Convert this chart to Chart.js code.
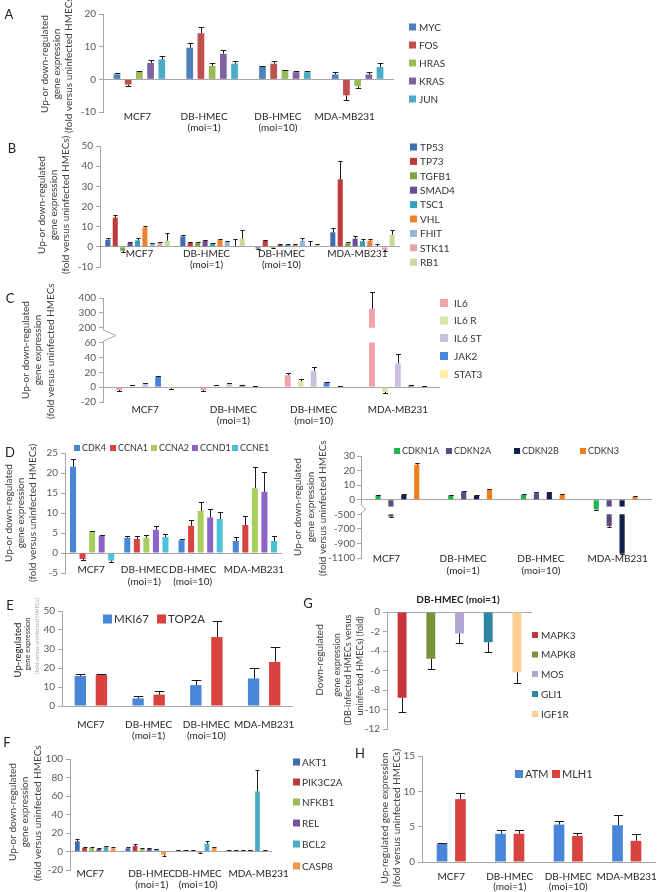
<!DOCTYPE html>
<html><head><meta charset="utf-8">
<script src="https://cdn.jsdelivr.net/npm/chart.js@4.4.1/dist/chart.umd.min.js"></script>
<style>
html,body{margin:0;padding:0;background:#fff;}
#wrap{position:relative;width:660px;height:892px;overflow:hidden;background:#fff;font-family:Lato,'Liberation Sans',sans-serif;}
canvas{position:absolute;}
.lab{position:absolute;font-size:13px;color:#222;transform:translate(-50%,-50%);line-height:1;}
.gt{position:absolute;font-size:10px;font-weight:bold;color:#222;transform:translate(-50%,-50%);white-space:nowrap;}
</style></head><body><div id="wrap"></div>
<script>
// ---------- DATA ----------
const categories = ['MCF7', ['DB-HMEC','(moi=1)'], ['DB-HMEC','(moi=10)'], 'MDA-MB231'];

// Panel A
const aGenes = ['MYC','FOS','HRAS','KRAS','JUN'];
const aMYC  = [1.5, 9.7, 4.0, 1.5];
const aFOS  = [-1.6, 14.1, 4.8, -4.9];
const aHRAS = [2.4, 4.1, 2.8, -2.1];
const aKRAS = [5.0, 7.8, 2.2, 1.5];
const aJUN  = [6.1, 4.8, 2.2, 3.8];
const aErr = [[0.4,1.4,0.2,0.7],[0.4,1.8,0.7,1.5],[0.3,0.9,0.2,0.6],[0.8,1.3,0.2,0.8],[0.9,0.8,0.2,1.2]];

// Panel B
const bGenes = ['TP53','TP73','TGFB1','SMAD4','TSC1','VHL','FHIT','STK11','RB1'];
const bTP53  = [3.5, 5.2, -0.8, 7.2];
const bTP73  = [14.5, 2.0, 3.2, 33.5];
const bTGFB1 = [-2.0, 2.0, -0.5, 1.8];
const bSMAD4 = [2.0, 3.0, 1.0, 4.0];
const bTSC1  = [3.2, 1.8, 1.0, 2.8];
const bVHL   = [9.5, 3.5, 1.0, 3.0];
const bFHIT  = [1.5, 2.5, 3.0, 0.3];
const bSTK11 = [2.0, 0.3, 0.4, -1.5];
const bRB1   = [3.0, 4.0, 1.0, 6.0];
const bErr = [[1,0.8,0.2,2.3],[1.3,0.3,0.4,9.3],[0.8,0.5,0.2,0.8],[0.3,0.5,0.2,1.5],[1.2,0.3,0.2,1.2],[0.7,0.5,0.2,0.8],[0.3,0.3,1.4,1.2],[0.5,3.7,2.6,0.5],[3.8,4.2,0.6,2.5]];

// Panel C (broken axis)
const cGenes = ['IL6','IL6 R','IL6 ST','JAK2','STAT3'];
const cIL6   = [-4, -4, 16, 328];
const cIL6R  = [2, 3, 8, -6.5];
const cIL6ST = [4, 4, 22, 32];
const cJAK2  = [14, 3, 6.5, 2];
const cSTAT3 = [-1.5, 1, 1, 1];
const cErr = [[1.5,1.5,3.5,115],[0.5,0.5,2.5,2],[1,1,5,12],[1,0.5,1,0.5],[0.5,0.3,0.3,0.5]];
const cTickLabels = ['-20','0','20','40','60','200','300','400'];

// Panel D left
const dGenes = ['CDK4','CCNA1','CCNA2','CCND1','CCNE1'];
const dCDK4  = [21.6, 3.8, 3.2, 3.0];
const dCCNA1 = [-1.5, 3.5, 6.8, 7.0];
const dCCNA2 = [5.5, 3.8, 10.5, 16.2];
const dCCND1 = [4.3, 5.8, 8.9, 15.3];
const dCCNE1 = [-1.9, 4.0, 8.5, 3.0];
const dErr = [[2,0.4,0.2,1.0],[0.3,0.7,1.4,2.3],[0.1,0.6,2.3,5.4],[0.2,1.0,2.1,5.0],[0.3,0.7,1.7,1.2]];

// Panel D right (broken axis)
const drGenes = ['CDKN1A','CDKN2A','CDKN2B','CDKN3'];
const drCDKN1A = [3, 3, 3.5, -330];
const drCDKN2A = [-530, 5.5, 4.5, -660];
const drCDKN2B = [3.5, 3, 5, -1040];
const drCDKN3  = [24, 7, 3.5, 2];
const drErr = [[0.5,0.5,0.5,12],[12,0.5,0.5,12],[0.5,0.5,0.5,10],[1,0.5,0.5,0.5]];
const drTickLabels = ['-1100','-900','-700','-500','0','10','20','30'];

// Panel E
const eGenes = ['MKI67','TOP2A'];
const eMKI67 = [15.8, 4.0, 11.0, 14.5];
const eTOP2A = [16.3, 6.0, 36.3, 23.2];
const eErr = [[1.0,1.2,2.6,5.3],[0.5,1.7,8.2,8.0]];

// Panel G
const gGenes = ['MAPK3','MAPK8','MOS','GLI1','IGF1R'];
const gValues = [-8.8, -4.8, -2.2, -3.1, -6.2];
const gErr = [1.5, 1.0, 1.0, 1.0, 1.1];

// Panel F
const fGenes = ['AKT1','PIK3C2A','NFKB1','REL','BCL2','CASP8'];
const fAKT1    = [11, 3.5, 1, 1.5];
const fPIK3C2A = [4, 6, 1.5, 1.5];
const fNFKB1   = [4, 3, 1, 1.5];
const fREL     = [3, 3, -1, 1.5];
const fBCL2    = [5, 2.5, 8.5, 65];
const fCASP8   = [3.5, -3.5, 4, 1.5];
const fErr = [[2.5,1,0.5,0.5],[1,2,0.5,0.5],[1,1,0.3,0.5],[1,1,0.5,0.5],[1,0.5,2.5,23],[1,1,1,0.5]];

// Panel H
const hGenes = ['ATM','MLH1'];
const hATM  = [2.6, 4.0, 5.3, 5.2];
const hMLH1 = [8.9, 4.0, 3.7, 3.0];
const hErr = [[0.1,0.5,0.5,1.4],[0.8,0.5,0.4,0.9]];

// ---------- BUILD ----------
const FONT = "Lato, 'Liberation Sans', sans-serif";
const wrap = document.getElementById('wrap');
function ser(names, vals, errs, colors){ return names.map((n,i)=>({label:n, raw:vals[i], err:errs[i], color:colors[i]})); }
const cTf = v => v <= 60 ? v/20 : (v < 200 ? 3 + (v-60)/140 : 4 + (v-200)/100);
const drTf = v => v >= 0 ? v/10 : (v >= -500 ? v/500 : -1 + (v+500)/200);

function makePanel(p){
  const [cx,cy,cw,ch] = p.rect;
  const [l,t,r,b] = p.plot;
  const cv = document.createElement('canvas');
  cv.style.left = cx+'px'; cv.style.top = cy+'px';
  cv.style.width = cw+'px'; cv.style.height = ch+'px';
  cv.width = cw; cv.height = ch;
  wrap.appendChild(cv);
  const tf = p.tf || (v=>v);
  const yW = l - cx, xH = cy + ch - b;
  const showX = p.showX !== false;
  const deco = {
    id: 'deco_'+p.id,
    afterDatasetsDraw(chart){
      const ctx = chart.ctx, ys = chart.scales.y;
      chart.data.datasets.forEach((ds, di) => {
        const meta = chart.getDatasetMeta(di);
        meta.data.forEach((bar, i) => {
          const v = ds.rawVals[i], e = ds.errs[i], w = bar.width;
          if (p.gap && p.gap.test(v)) {
            const y1 = ys.getPixelForValue(p.gap.t1), y2 = ys.getPixelForValue(p.gap.t2);
            ctx.save(); ctx.fillStyle = '#fff';
            ctx.fillRect(bar.x - w/2 - 1, Math.min(y1,y2), w + 2, Math.abs(y2-y1));
            ctx.restore();
          }
          const sgn = v < 0 ? -1 : 1;
          const yEnd = ys.getPixelForValue(tf(v + sgn*e));
          const cap = Math.max(4, w*0.85)/2;
          const x = Math.round(bar.x) + 0.5, ye = Math.round(yEnd) + 0.5;
          ctx.save(); ctx.strokeStyle = '#1a1a1a'; ctx.lineWidth = 1;
          ctx.beginPath();
          ctx.moveTo(x, bar.y); ctx.lineTo(x, ye);
          ctx.moveTo(x - cap, ye); ctx.lineTo(x + cap, ye);
          ctx.stroke(); ctx.restore();
        });
      });
    },
    afterDraw(chart){
      const ctx = chart.ctx, ys = chart.scales.y, xs = chart.scales.x;
      if (p.brk) {
        const ax = chart.chartArea.left;
        const y1 = ys.getPixelForValue(p.brk.t1), y2 = ys.getPixelForValue(p.brk.t2);
        ctx.save();
        ctx.fillStyle = '#fff';
        ctx.fillRect(ax - 2, Math.min(y1,y2), 4, Math.abs(y2-y1));
        ctx.strokeStyle = '#A6A6A6'; ctx.lineWidth = 1;
        ctx.beginPath();
        ctx.moveTo(ax + 0.5, y1); ctx.lineTo(ax + p.brk.w, (y1+y2)/2); ctx.lineTo(ax + 0.5, y2);
        ctx.stroke(); ctx.restore();
      }
      if (p.cat) {
        ctx.save();
        ctx.font = '10px ' + FONT; ctx.fillStyle = '#262626';
        ctx.textAlign = 'center'; ctx.textBaseline = 'middle';
        chart.data.labels.forEach((lab, i) => {
          const x = xs.getPixelForValue(i) + (p.cat.dx ? p.cat.dx[i] : 0);
          const lines = Array.isArray(lab) ? lab : [lab];
          lines.forEach((s, k) => ctx.fillText(s, x, p.cat.y - cy + k*p.cat.dy));
        });
        ctx.restore();
      }
      if (p.legend) {
        const L = p.legend;
        ctx.save();
        ctx.font = (L.font || 10) + 'px ' + FONT;
        ctx.textBaseline = 'middle'; ctx.textAlign = 'left';
        chart.data.datasets.forEach((ds, i) => {
          const x = (Array.isArray(L.x) ? L.x[i] : L.x) - cx;
          const y = (Array.isArray(L.y) ? L.y[i] : L.y) - cy;
          ctx.fillStyle = ds.backgroundColor;
          ctx.fillRect(x, y - L.box/2, L.box, L.box);
          ctx.fillStyle = '#333';
          ctx.fillText(ds.label, x + L.dx, y + 0.5);
        });
        ctx.restore();
      }
      if (p.vtitle) {
        p.vtitle.forEach(ln => {
          const [txt, x, yc, size, color] = ln;
          ctx.save();
          ctx.translate(x - cx, yc - cy);
          ctx.rotate(-Math.PI/2);
          ctx.font = size + 'px ' + FONT;
          ctx.fillStyle = color || '#333';
          ctx.textAlign = 'center'; ctx.textBaseline = 'middle';
          ctx.fillText(txt, 0, 0);
          ctx.restore();
        });
      }
    }
  };
  const datasets = p.series.map(s => ({
    label: s.label, data: s.raw.map(tf), rawVals: s.raw, errs: s.err,
    backgroundColor: s.color, borderWidth: 0,
    categoryPercentage: p.catPct, barPercentage: p.barPct
  }));
  const yTicks = { stepSize: p.step, autoSkip: false, color: '#595959', font: {family: FONT, size: 10}, padding: p.tickPad || 3 };
  if (p.tickLabel) yTicks.callback = p.tickLabel;
  new Chart(cv, {
    type: 'bar',
    data: { labels: p.labels, datasets },
    options: {
      responsive: false, animation: false, devicePixelRatio: 1,
      layout: { padding: { left: 0, top: t - cy, right: cx + cw - r, bottom: showX ? 0 : xH } },
      plugins: { legend: {display: false}, tooltip: {enabled: false}, title: {display: false} },
      scales: {
        x: { display: showX, grid: {display: false}, border: {display: false},
             ticks: { display: false },
             afterFit: s => { s.height = xH; } },
        y: { min: p.yMin, max: p.yMax, ticks: yTicks,
             grid: { color: c => (c.tick && c.tick.value === 0) ? '#A6A6A6' : 'rgba(0,0,0,0)', tickColor: '#A6A6A6', tickLength: 4 },
             border: { display: true, color: '#A6A6A6' },
             afterFit: s => { s.width = yW; } }
      }
    },
    plugins: [deco]
  });
}

const T3 = ['Up-or down-regulated','gene expression','(fold versus uninfected HMECs)'];
const TC = '#404040';

// A
makePanel({ id:'A', rect:[0,0,470,136], plot:[103,14,394,112], labels:categories,
  series: ser(aGenes, [aMYC,aFOS,aHRAS,aKRAS,aJUN], aErr, ['#4F81BD','#C0504D','#9BBB59','#8064A2','#4BACC6']),
  yMin:-10, yMax:20, step:10, catPct:0.77, barPct:0.6, cat:{y:117, dy:11, dx:[-2,-8,-7,-13]},
  legend:{x:409, y:[27,45,63,81,99], box:7, dx:10},
  vtitle: T3.map((s,i)=>[s, [45,57,69][i], 64, 10, TC]) });

// B
makePanel({ id:'B', rect:[0,132,470,148], plot:[100,146,400,267], labels:categories,
  series: ser(bGenes, [bTP53,bTP73,bTGFB1,bSMAD4,bTSC1,bVHL,bFHIT,bSTK11,bRB1], bErr,
    ['#3E6EB2','#C0393B','#7FA63C','#6B4E96','#31A0BC','#F0812C','#94B4DC','#E8A2AA','#C5DC9A']),
  yMin:-10, yMax:50, step:10, catPct:0.89, barPct:0.68, cat:{y:254, dy:11, dx:[2,-6,-6,-5]},
  legend:{x:410, y:bGenes.map((g,i)=>147+i*14.4), box:7, dx:10},
  vtitle: T3.map((s,i)=>[s, [42,54,66][i], 205, 10, TC]) });

// C
makePanel({ id:'C', rect:[0,284,520,148], plot:[103,298,440,402], labels:categories,
  series: ser(cGenes, [cIL6,cIL6R,cIL6ST,cJAK2,cSTAT3], cErr, ['#F0A3AB','#D6E6A8','#C9C0E0','#4A86D8','#FBEFA6']),
  yMin:-1, yMax:6, step:1, tf:cTf, tickLabel: v => cTickLabels[Math.round(v)+1],
  catPct:0.77, barPct:0.45, cat:{y:410, dy:11, dx:[0,4,0,0]},
  legend:{x:440, y:[303,320.5,338,356,374], box:8, dx:14},
  gap:{test: v => v > 200, t1:3.0, t2:4.0},
  brk:{t1:3.1, t2:3.85, w:13},
  vtitle: T3.map((s,i)=>[s, [26,38,51][i], 350, 10, TC]) });

// D left
makePanel({ id:'DL', rect:[0,440,330,150], plot:[65,453,282,573], labels:categories,
  series: ser(dGenes, [dCDK4,dCCNA1,dCCNA2,dCCND1,dCCNE1], dErr, ['#4A86D8','#D9433F','#A8CF5C','#8C63C6','#4DC1D9']),
  yMin:-5, yMax:25, step:5, catPct:0.88, barPct:0.63, cat:{y:570, dy:12, dx:[-1,-2,-8,-1]},
  legend:{x:[74,110,151,192,232], y:448, box:6, dx:8, font:9},
  vtitle: T3.map((s,i)=>[s, [9,21,33][i], 513, 10, TC]) });

// D right
makePanel({ id:'DR', rect:[290,440,370,150], plot:[361,456,652,558], labels:categories,
  series: ser(drGenes, [drCDKN1A,drCDKN2A,drCDKN2B,drCDKN3], drErr, ['#20B352','#5E4A80','#101F4C','#F07E1F']),
  yMin:-4, yMax:3, step:1, tf:drTf, tickLabel: v => drTickLabels[Math.round(v)+4], tickPad:2,
  catPct:0.71, barPct:0.4, cat:{y:559, dy:12, dx:[-11,-7,-2,2]},
  legend:{x:[394,446,514,580], y:451, box:6, dx:8, font:9},
  gap:{test: v => v < -500, t1:-0.47, t2:-1.0},
  brk:{t1:-0.4, t2:-0.9, w:5},
  vtitle: T3.map((s,i)=>[s, [298,311,323][i], 507, 10, TC]) });

// E
makePanel({ id:'E', rect:[0,598,330,147], plot:[62,611,293,706], labels:categories,
  series: ser(eGenes, [eMKI67,eTOP2A], eErr, ['#4A86D8','#D9433F']),
  yMin:0, yMax:50, step:10, catPct:0.73, barPct:0.54, cat:{y:725, dy:11},
  legend:{x:[103,157], y:619, box:9, dx:11, font:11.5},
  vtitle: [['Up-regulated',18,650,9.5,'#222'],['gene expression',28,644,7.5,'#333'],['(fold versus uninfected HMECs)',37,636,5.5,'#aaa']] });

// G
makePanel({ id:'G', rect:[300,598,360,147], plot:[387,612,532,737], labels:[''], showX:false,
  series: gGenes.map((g,i)=>({label:g, raw:[gValues[i]], err:[gErr[i]], color:['#C8363D','#77933C','#B4A6D4','#2E86A0','#FCCF94'][i]})),
  yMin:-12, yMax:0, step:2, catPct:0.99, barPct:0.31,
  legend:{x:532, y:[635,654.5,674,694,714], box:6, dx:9},
  vtitle: [['Down-regulated',320,660,10,TC],['gene expression',337,665,9,TC],['(DB-infected HMECs versus',348,670,9,TC],['uninfected HMECs) (fold)',360,666,9,TC]] });

// F
makePanel({ id:'F', rect:[0,745,350,147], plot:[70,759,272,870], labels:categories,
  series: ser(fGenes, [fAKT1,fPIK3C2A,fNFKB1,fREL,fBCL2,fCASP8], fErr, ['#3E6FAA','#C0393F','#9BBB59','#7153A0','#4BACC6','#F79646']),
  yMin:-20, yMax:100, step:20, catPct:0.85, barPct:0.66, cat:{y:874, dy:11, dx:[-5,6,2,12]},
  legend:{x:293, y:[762,782,802,823,844,866], box:7, dx:9},
  vtitle: T3.map((s,i)=>[s, [13,25,38][i], 812, 10, TC]) });

// H
makePanel({ id:'H', rect:[340,745,320,147], plot:[422,756,656,862], labels:categories,
  series: ser(hGenes, [hATM,hMLH1], hErr, ['#4A86D8','#D9433F']),
  yMin:0, yMax:15, step:5, catPct:0.63, barPct:0.58, cat:{y:877, dy:10},
  legend:{x:[515,552], y:774, box:8, dx:10, font:11},
  vtitle: [['Up-regulated gene expression',385,818,10,TC],['(fold versus uninfected HMECs)',397,818,10,TC]] });

// panel letters and G title
[['A',9,14],['B',12,148],['C',10,298],['D',10,452],['E',10,605],['G',308,603],['F',7,742],['H',360,753]].forEach(([s,x,y])=>{
  const d = document.createElement('div'); d.className='lab'; d.textContent=s;
  d.style.left = x+'px'; d.style.top = y+'px'; wrap.appendChild(d);
});
const gt = document.createElement('div'); gt.className='gt'; gt.textContent='DB-HMEC  (moi=1)';
gt.style.left='458px'; gt.style.top='599px'; wrap.appendChild(gt);
</script></body></html>
